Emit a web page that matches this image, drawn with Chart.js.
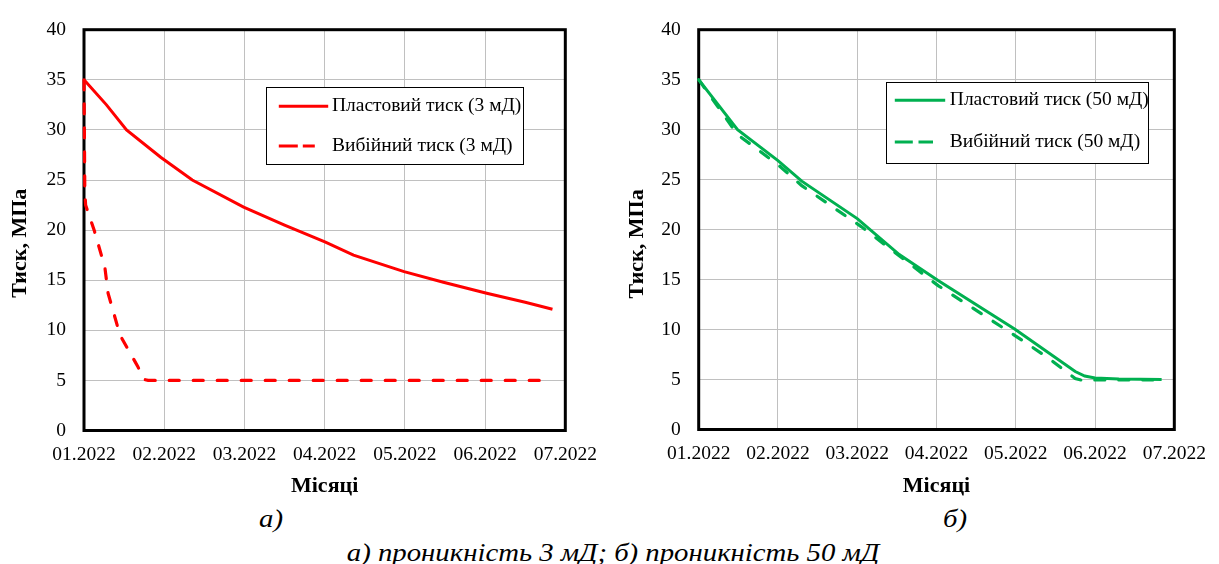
<!DOCTYPE html>
<html lang="uk">
<head>
<meta charset="utf-8">
<title>Пластовий та вибійний тиск</title>
<script src="https://cdn.jsdelivr.net/npm/chart.js@4.4.1/dist/chart.umd.min.js"></script>
<style>
  html, body { margin: 0; padding: 0; background: #fff; }
  body { width: 1219px; height: 564px; position: relative; overflow: hidden;
         font-family: "Liberation Serif", "Times New Roman", serif; }
  #chartA { position: absolute; left: 0; top: 0; }
  #chartB { position: absolute; left: 614px; top: 0; }
  .cap { position: absolute; font-style: italic; white-space: nowrap; line-height: 1;
         font-size: 25px; color: #000; transform: translate(-50%, -50%) scaleX(1.15); }
</style>
</head>
<body>
<canvas id="chartA" width="610" height="500"></canvas>
<canvas id="chartB" width="605" height="500"></canvas>
<div class="cap" style="left:271px; top:518px;">а)</div>
<div class="cap" style="left:955px; top:518px;">б)</div>
<div class="cap" style="left:613px; top:552px;">а) проникність 3 мД; б) проникність 50 мД</div>

<script>
// Month tick labels (x = months since 01.2022)
const monthLabels = ['01.2022', '02.2022', '03.2022', '04.2022', '05.2022', '06.2022', '07.2022'];
const pressureMin = 0;
const pressureMax = 40;
const pressureStep = 5;

// а) permeability 3 mD
const monthsPlastA = [0, 0.28, 0.53, 0.96, 1.35, 1.99, 2.5, 3.01, 3.36, 3.99, 4.48, 5.02, 5.5, 5.84];
const plastA       = [35, 32.5, 30.0, 27.25, 25.0, 22.3, 20.5, 18.8, 17.5, 15.85, 14.8, 13.7, 12.8, 12.1];
const monthsBhpA   = [0, 0.01, 0.02, 0.13, 0.26, 0.30, 0.38, 0.45, 0.67, 0.745, 0.80, 5.84];
const bhpA         = [35, 24.0, 22.5, 19.9, 16.3, 13.7, 11.45, 9.5, 6.4, 5.1, 5.0, 5.0];

// б) permeability 50 mD
const monthsPlastB = [0, 0.49, 1.0, 1.30, 2.0, 2.53, 3.02, 3.99, 4.75, 4.87, 5.0, 5.3, 5.84];
const plastB       = [35, 30.0, 26.9, 24.85, 21.1, 17.5, 14.9, 10.04, 5.8, 5.35, 5.15, 5.05, 5.0];
const monthsBhpB   = [0, 0.49, 1.0, 1.30, 2.05, 3.02, 3.99, 4.42, 4.75, 4.82, 5.84];
const bhpB         = [35, 29.5, 26.5, 24.4, 20.3, 14.4, 9.4, 7.1, 5.1, 4.95, 4.95];

const SERIF = "'Liberation Serif', 'Times New Roman', serif";
Chart.defaults.font.family = SERIF;
Chart.defaults.font.size = 19.5;
Chart.defaults.color = '#000';

const toPoints = (xs, ys) => xs.map((x, i) => ({ x, y: ys[i] }));

// Black frame around the plot area, under the data lines
const plotFrame = {
  id: 'plotFrame',
  beforeDatasetsDraw(chart) {
    const { ctx, chartArea: a } = chart;
    ctx.save();
    ctx.strokeStyle = '#000';
    ctx.lineWidth = 3;
    ctx.strokeRect(a.left, a.top, a.right - a.left, a.bottom - a.top);
    ctx.restore();
  }
};

// Rotated y-axis title
const yTitle = {
  id: 'yTitle',
  afterDraw(chart, args, opts) {
    const { ctx, chartArea: a } = chart;
    ctx.save();
    ctx.translate(a.left + opts.dx, (a.top + a.bottom) / 2 + opts.dy);
    ctx.rotate(-Math.PI / 2);
    ctx.font = 'bold 22px ' + SERIF;
    ctx.fillStyle = '#000';
    ctx.textAlign = 'center';
    ctx.textBaseline = 'middle';
    ctx.fillText(opts.text, 0, 0);
    ctx.restore();
  }
};

// Framed legend inside the plot area
const boxedLegend = {
  id: 'boxedLegend',
  afterDraw(chart, args, o) {
    const { ctx, chartArea: a } = chart;
    const x = Math.round(a.left + o.dx), y = Math.round(o.y);
    ctx.save();
    ctx.fillStyle = '#fff';
    ctx.fillRect(x, y, o.w, o.h);
    ctx.strokeStyle = '#000';
    ctx.lineWidth = 1;
    ctx.strokeRect(x + 0.5, y + 0.5, o.w, o.h);
    chart.data.datasets.forEach((ds, i) => {
      const ry = y + o.rows[i];
      ctx.beginPath();
      ctx.strokeStyle = ds.borderColor;
      ctx.lineWidth = ds.borderWidth;
      ctx.lineCap = 'butt';
      ctx.setLineDash(o.dash[i]);
      ctx.moveTo(x + o.x0, ry);
      ctx.lineTo(x + o.x1[i], ry);
      ctx.stroke();
      ctx.setLineDash([]);
      ctx.fillStyle = '#000';
      ctx.font = '19.5px ' + SERIF;
      ctx.textAlign = 'left';
      ctx.textBaseline = 'middle';
      ctx.fillText(ds.label, x + o.textX, ry);
    });
    ctx.restore();
  }
};

function makeChart(canvasId, color, labels, plastPts, bhpPts, box) {
  return new Chart(document.getElementById(canvasId), {
    type: 'line',
    data: {
      datasets: [
        {
          label: labels[0], data: plastPts, borderColor: color, backgroundColor: color,
          borderWidth: 3, pointRadius: 0, fill: false, clip: 6, tension: 0
        },
        {
          label: labels[1], data: bhpPts, borderColor: color, backgroundColor: color,
          borderWidth: 3.2, borderDash: [10, 14], borderCapStyle: 'round',
          pointRadius: 0, fill: false, clip: 6, tension: 0
        }
      ]
    },
    options: {
      responsive: false,
      animation: false,
      devicePixelRatio: 1,
      layout: { padding: { top: box.top, right: box.right, bottom: 0, left: 0 } },
      plugins: {
        legend: { display: false },
        tooltip: { enabled: false },
        yTitle: { text: 'Тиск, МПа', dx: box.titleDx, dy: box.titleDy },
        boxedLegend: box.legend
      },
      scales: {
        x: {
          type: 'linear', min: 0, max: monthLabels.length - 1,
          border: { display: false },
          grid: { color: '#c0c0c0', lineWidth: 1, drawTicks: false },
          ticks: { stepSize: 1, padding: 13, maxRotation: 0, autoSkip: false,
                   callback: v => monthLabels[v] },
          title: { display: true, text: 'Місяці', font: { size: 22, weight: 'bold' }, padding: 0 },
          afterFit: s => { s.height = box.xHeight; }
        },
        y: {
          min: pressureMin, max: pressureMax,
          border: { display: false },
          grid: { color: '#c0c0c0', lineWidth: 1, drawTicks: false },
          ticks: { stepSize: pressureStep, padding: 18 },
          afterFit: s => { s.width = box.yWidth; }
        }
      }
    },
    plugins: [plotFrame, yTitle, boxedLegend]
  });
}

makeChart('chartA', '#ff0000',
  ['Пластовий тиск (3 мД)', 'Вибійний тиск (3 мД)'],
  toPoints(monthsPlastA, plastA), toPoints(monthsBhpA, bhpA),
  { top: 21.1, right: 40, xHeight: 69.5, yWidth: 84, titleDx: -63.2, titleDy: 13.2,
    legend: { dx: 182, y: 86.7, w: 257, h: 77, rows: [19.3, 59], x0: 12.8,
              x1: [62.2, 48.8], dash: [[], [19, 5]], textX: 66 } });

makeChart('chartB', '#00b050',
  ['Пластовий тиск (50 мД)', 'Вибійний тиск (50 мД)'],
  toPoints(monthsPlastB, plastB), toPoints(monthsBhpB, bhpB),
  { top: 19.8, right: 35.7, xHeight: 70.5, yWidth: 84.7, titleDx: -60.9, titleDy: 14.3,
    legend: { dx: 187, y: 81.7, w: 262, h: 81, rows: [18.3, 60], x0: 8.8,
              x1: [59.2, 47], dash: [[], [18, 5.7]], textX: 63.8 } });
</script>
</body>
</html>
